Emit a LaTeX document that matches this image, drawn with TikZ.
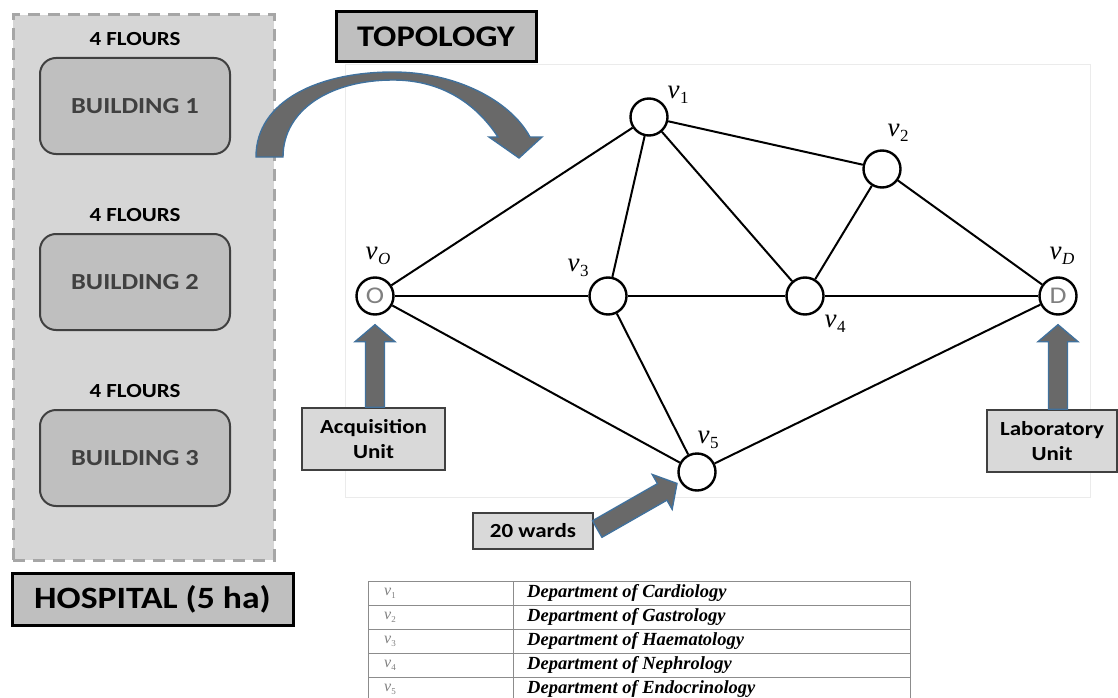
\documentclass[tikz,border=0pt]{standalone}
\usepackage{fontspec}
\setmainfont{Carlito}[FakeStretch=1.15]
\newfontfamily\tms{Liberation Serif}
\usetikzlibrary{positioning,calc}
\definecolor{areagrey}{HTML}{D6D6D6}
\definecolor{dashgrey}{HTML}{A6A6A6}
\definecolor{boxgrey}{HTML}{BFBFBF}
\definecolor{lightbox}{HTML}{D9D9D9}
\definecolor{darkgrey}{HTML}{404040}
\definecolor{arrowfill}{HTML}{696969}
\definecolor{arrowedge}{HTML}{41719C}
\definecolor{framegrey}{HTML}{EBEBEB}
\definecolor{tabgrey}{HTML}{8C8C8C}
\definecolor{lettergrey}{HTML}{808080}
\newcommand{\fsz}[2]{\fontsize{#1}{#2}\selectfont}
\newcommand{\vname}[1]{{\tms\itshape v}\kern0.5pt\raisebox{-5pt}{\tms\fsz{17}{17}#1}}
\newcommand{\tabv}[1]{{\tms\itshape v}\raisebox{-3pt}{\tms\fsz{9}{9}#1}}
\newcommand{\blockarrow}[2]{%
  \path let \p1=(#1), \p2=(#2), \n1={atan2(\y2-\y1,\x2-\x1)}, \n2={veclen(\x2-\x1,\y2-\y1)} in
    \pgfextra{\xdef\barang{\n1}\xdef\barlen{\n2}};
  \draw[blockarr, shift={(#1)}, rotate=\barang]
    (0,-9.5) -- (\barlen-17,-9.5) -- (\barlen-17,-20) -- (\barlen,0)
    -- (\barlen-17,20) -- (\barlen-17,9.5) -- (0,9.5) -- cycle;}

\begin{document}
\begin{tikzpicture}[x=1pt,y=-1pt,
  hosparea/.style={draw=dashgrey,fill=areagrey,line width=3pt,dash pattern=on 12pt off 8pt,minimum width=261pt,minimum height=545pt},
  bldg/.style={draw=darkgrey,fill=boxgrey,line width=2pt,rounded corners=16pt,minimum width=190pt,minimum height=96pt,text=darkgrey,font=\fsz{23}{23}\bfseries},
  floors/.style={inner sep=2pt,font=\fsz{20}{20}\bfseries},
  title/.style={draw=black,fill=boxgrey,line width=3pt,inner sep=0pt},
  unitbox/.style={draw=darkgrey,fill=lightbox,line width=1.5pt,align=center,inner sep=0pt,font=\fsz{20}{25}\bfseries},
  vert/.style={circle,draw,line width=2.4pt,fill=white,minimum size=37pt,inner sep=0pt,text=lettergrey,font=\fsz{24}{24}},
  vlab/.style={inner sep=0pt,font=\fsz{27}{27}},
  edge/.style={line width=2pt},
  blockarr/.style={draw=arrowedge,fill=arrowfill,line width=1.4pt,line join=miter},
  tabline/.style={draw=tabgrey,line width=0.9pt},
  tabnum/.style={inner sep=0pt,text=lettergrey,font=\fsz{16}{16}},
  tabdep/.style={inner sep=0pt,font=\tms\bfseries\itshape\fsz{18.5}{18.5}}]
\useasboundingbox (0,0) rectangle (1118,698);

\draw[framegrey,line width=0.8pt] (345,64) rectangle (1090,497);

\node[hosparea] (area) at (143.5,287.5) {};
\foreach \k/\yy in {1/106,2/282,3/458}{
  \node[bldg] (b\k) at (135,\yy) {BUILDING \k};
  \node[floors,above=9pt of b\k] (f\k) {4 FLOURS};
}
\node[title,minimum width=281pt,minimum height=52pt,font=\fsz{31}{31}\bfseries] (hosp) at (152.5,599) {HOSPITAL (5 ha)};
\node[title,minimum width=200pt,minimum height=50pt,font=\fsz{30}{30}\bfseries] (topo) at (436,37) {TOPOLOGY};

\draw[blockarr] (256,157) .. controls (256,100) and (320,72) .. (393,72)
  .. controls (455,72) and (510,100) .. (530,137) -- (542,137) -- (519,158) -- (489,137) -- (498,137)
  .. controls (475,102) and (440,80) .. (393,80) .. controls (330,80) and (283,110) .. (283,157) -- cycle;

\node[vert] (O) at (375,296) {O};
\node[vert] (v1) at (649,117) {};
\node[vert] (v2) at (882,169) {};
\node[vert] (v3) at (608,296) {};
\node[vert] (v4) at (805,296) {};
\node[vert] (v5) at (697,472) {};
\node[vert] (D) at (1058,296) {D};
\foreach \a/\b in {O/v1,O/v3,O/v5,v1/v2,v1/v3,v1/v4,v2/v4,v2/D,v3/v4,v4/D,v3/v5,v5/D}
  \draw[edge] (\a) -- (\b);

\node[vlab] (lO) at (378,256) {\vname{\itshape O}};
\node[vlab] (l1) at (678,95) {\vname{1}};
\node[vlab] (l2) at (898,133) {\vname{2}};
\node[vlab] (l3) at (578,268) {\vname{3}};
\node[vlab] (l4) at (835,324) {\vname{4}};
\node[vlab] (l5) at (708,440) {\vname{5}};
\node[vlab] (lD) at (1062,256) {\vname{\itshape D}};

\node[unitbox,minimum width=143pt,minimum height=62pt] (acq) at (373.5,439) {Acquisition\\Unit};
\node[unitbox,minimum width=130pt,minimum height=62pt] (lab) at (1052,441) {Laboratory\\Unit};
\node[unitbox,minimum width=120pt,minimum height=36pt] (wards) at (533,531) {20 wards};

\coordinate (acqfoot) at (acq.north -| O);
\coordinate (acqtip) at ([yshift=-9pt]O.south);
\coordinate (labfoot) at (lab.north -| D);
\coordinate (labtip) at ([yshift=-9pt]D.south);
\coordinate (wardfoot) at ($(wards.east)!4pt!(v5)$);
\coordinate (wardtip) at ($(v5)!23pt!(wards.east)$);
\blockarrow{acqfoot}{acqtip}
\blockarrow{labfoot}{labtip}
\blockarrow{wardfoot}{wardtip}

\draw[tabline] (368,581) rectangle (910,701);
\draw[tabline] (513,581) -- (513,701);
\foreach \r in {1,...,4}
  \draw[tabline] (368,{581+24*\r}) -- (910,{581+24*\r});
\foreach \i/\dep [evaluate=\i as \yy using 569+24*\i] in {1/Cardiology,2/Gastrology,3/Haematology,4/Nephrology,5/Endocrinology}{
  \node[tabnum,anchor=west] (n\i) at (384,\yy) {\tabv{\i}};
  \node[tabdep,anchor=west] (d\i) at (527,\yy) {Department of \dep};
}
\end{tikzpicture}
\end{document}
